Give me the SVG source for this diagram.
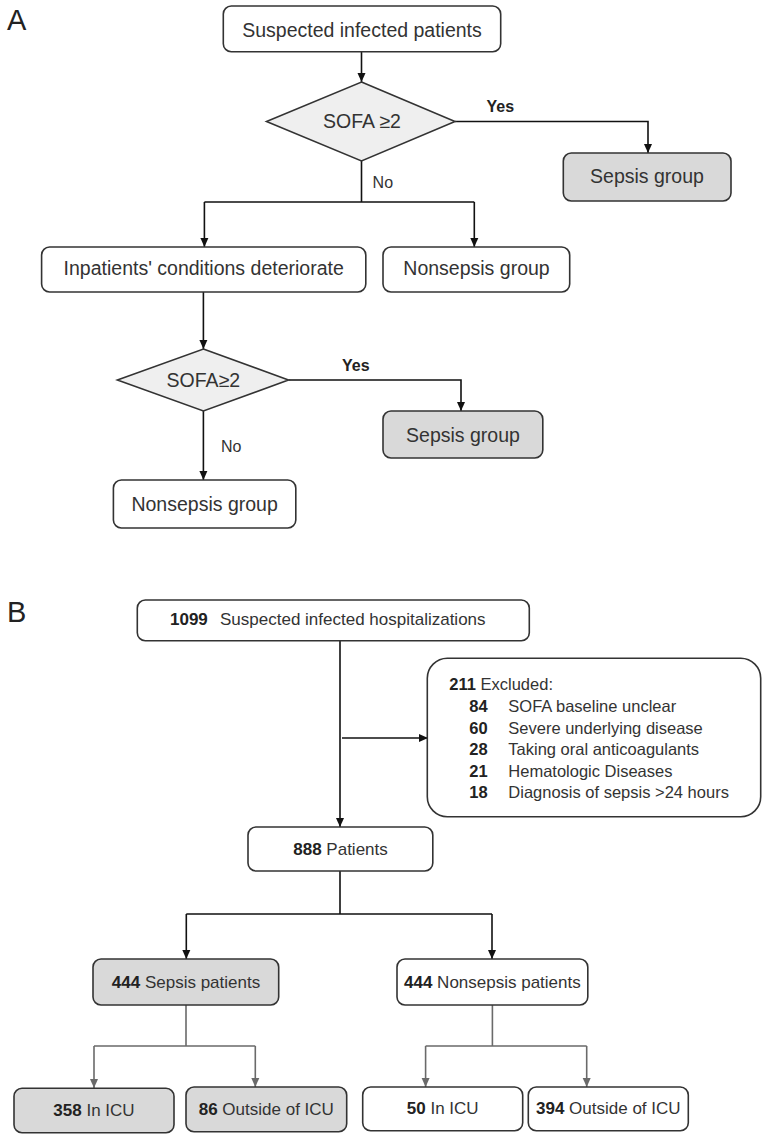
<svg xmlns="http://www.w3.org/2000/svg" width="767" height="1140" viewBox="0 0 767 1140">
<defs>
<style>
text{font-family:"Liberation Sans","Noto Sans CJK SC",sans-serif;fill:#333}
.box{fill:#fff;stroke:#333;stroke-width:1.6}
.gbox{fill:#d9d9d9;stroke:#333;stroke-width:1.6}
.dia{fill:#efefef;stroke:#333;stroke-width:1.6}
.a{font-size:19.5px}
.b{font-size:17px}
.e{font-size:16.5px}
.lbl{font-size:16px}
.bold{font-weight:bold;fill:#222}
.panel{font-size:29px;fill:#222}
.c{fill:none;stroke:#111;stroke-width:1.6}
.cg{fill:none;stroke:#6a6a6a;stroke-width:1.6}
</style>
<marker id="ar" markerUnits="userSpaceOnUse" markerWidth="10" markerHeight="10" refX="9" refY="5" orient="auto">
<path d="M0,1 L9,5 L0,9 z" fill="#111"/>
</marker>
<marker id="arg" markerUnits="userSpaceOnUse" markerWidth="10" markerHeight="10" refX="9" refY="5" orient="auto">
<path d="M0,1 L9,5 L0,9 z" fill="#6a6a6a"/>
</marker>
</defs>

<text class="panel" x="7" y="30">A</text>
<text class="panel" x="7" y="622">B</text>

<g id="connectors">
<path class="c" d="M361.5,52 V82" marker-end="url(#ar)"/>
<path class="c" d="M455,121.5 H648 V153" marker-end="url(#ar)"/>
<path class="c" d="M361.5,161 V202 M204.4,202 H474.3"/>
<path class="c" d="M204.4,202 V247" marker-end="url(#ar)"/>
<path class="c" d="M474.3,202 V247" marker-end="url(#ar)"/>
<path class="c" d="M203.4,292 V349" marker-end="url(#ar)"/>
<path class="c" d="M288.5,380 H461 V411" marker-end="url(#ar)"/>
<path class="c" d="M203.4,411 V480" marker-end="url(#ar)"/>
<path class="c" d="M340,641 V827" marker-end="url(#ar)"/>
<path class="c" d="M342,738 H428" marker-end="url(#ar)"/>
<path class="c" d="M340,871 V914 M186.3,914 H492"/>
<path class="c" d="M186.3,914 V959" marker-end="url(#ar)"/>
<path class="c" d="M492,914 V959" marker-end="url(#ar)"/>
<path class="cg" d="M186,1005 V1046 M94,1046 H255.3"/>
<path class="cg" d="M94,1046 V1088" marker-end="url(#arg)"/>
<path class="cg" d="M255.3,1046 V1087" marker-end="url(#arg)"/>
<path class="cg" d="M492.4,1005 V1046 M425.6,1046 H586.7"/>
<path class="cg" d="M425.6,1046 V1087" marker-end="url(#arg)"/>
<path class="cg" d="M586.7,1046 V1087" marker-end="url(#arg)"/>
<text class="lbl bold" x="486.5" y="112">Yes</text>
<text class="lbl" x="372.6" y="188">No</text>
<text class="lbl bold" x="342" y="371">Yes</text>
<text class="lbl" x="221" y="452">No</text>
</g>

<g id="suspected">
<rect class="box" x="223.3" y="6" width="277.4" height="45.7" rx="8"/>
<text class="a" x="362" y="36.5" text-anchor="middle">Suspected infected patients</text>
</g>
<g id="sofa1">
<polygon class="dia" points="361.5,82 455,121.5 361.5,161 266.5,121.5"/>
<text class="a" x="362" y="128" text-anchor="middle">SOFA ≥2</text>
</g>
<g id="sepsis1">
<rect class="gbox" x="563.3" y="153" width="167.7" height="48" rx="8"/>
<text class="a" x="647" y="183" text-anchor="middle">Sepsis group</text>
</g>
<g id="deteriorate">
<rect class="box" x="41.6" y="247" width="324.2" height="45" rx="8"/>
<text class="a" x="203.7" y="275" text-anchor="middle">Inpatients' conditions deteriorate</text>
</g>
<g id="nonsepsis1">
<rect class="box" x="383" y="247" width="186.7" height="45" rx="8"/>
<text class="a" x="476.5" y="275" text-anchor="middle">Nonsepsis group</text>
</g>
<g id="sofa2">
<polygon class="dia" points="203.4,349 288.5,380 203.4,411 117.4,380"/>
<text class="a" x="203.4" y="387" text-anchor="middle">SOFA≥2</text>
</g>
<g id="sepsis2">
<rect class="gbox" x="383" y="411" width="159.8" height="47" rx="8"/>
<text class="a" x="463" y="442" text-anchor="middle">Sepsis group</text>
</g>
<g id="nonsepsis2">
<rect class="box" x="113.4" y="480" width="182.4" height="48" rx="8"/>
<text class="a" x="204.6" y="511" text-anchor="middle">Nonsepsis group</text>
</g>

<g id="hospitalizations">
<rect class="box" x="137.3" y="600" width="392" height="40.7" rx="8"/>
<text class="b" x="170" y="625"><tspan class="bold">1099</tspan></text>
<text class="b" x="220" y="625">Suspected infected hospitalizations</text>
</g>
<g id="excluded">
<rect class="box" x="427.3" y="658.3" width="333.4" height="158.4" rx="20"/>
<text class="e" x="449.3" y="690"><tspan class="bold">211</tspan> Excluded:</text>
<text class="e" x="469.3" y="712"><tspan class="bold">84</tspan></text>
<text class="e" x="508.3" y="712">SOFA baseline unclear</text>
<text class="e" x="469.3" y="733.5"><tspan class="bold">60</tspan></text>
<text class="e" x="508.3" y="733.5">Severe underlying disease</text>
<text class="e" x="469.3" y="755"><tspan class="bold">28</tspan></text>
<text class="e" x="508.3" y="755">Taking oral anticoagulants</text>
<text class="e" x="469.3" y="776.5"><tspan class="bold">21</tspan></text>
<text class="e" x="508.3" y="776.5">Hematologic Diseases</text>
<text class="e" x="469.3" y="798"><tspan class="bold">18</tspan></text>
<text class="e" x="508.3" y="798">Diagnosis of sepsis &gt;24 hours</text>
</g>
<g id="patients">
<rect class="box" x="248" y="827" width="184.8" height="44" rx="8"/>
<text class="b" x="340.5" y="855" text-anchor="middle"><tspan class="bold">888</tspan> Patients</text>
</g>
<g id="sepsis-patients">
<rect class="gbox" x="93" y="959" width="185.7" height="46" rx="8"/>
<text class="b" x="186" y="988" text-anchor="middle"><tspan class="bold">444</tspan> Sepsis patients</text>
</g>
<g id="nonsepsis-patients">
<rect class="box" x="397" y="959" width="190.8" height="46" rx="8"/>
<text class="b" x="492.4" y="988" text-anchor="middle"><tspan class="bold">444</tspan> Nonsepsis patients</text>
</g>
<g id="sepsis-icu">
<rect class="gbox" x="14" y="1088.3" width="160" height="44.4" rx="8"/>
<text class="b" x="94" y="1116" text-anchor="middle"><tspan class="bold">358</tspan> In ICU</text>
</g>
<g id="sepsis-outside">
<rect class="gbox" x="186" y="1087" width="160.7" height="44.7" rx="8"/>
<text class="b" x="266.3" y="1115" text-anchor="middle"><tspan class="bold">86</tspan> Outside of ICU</text>
</g>
<g id="nonsepsis-icu">
<rect class="box" x="362.7" y="1087" width="160" height="43.7" rx="8"/>
<text class="b" x="442.7" y="1114" text-anchor="middle"><tspan class="bold">50</tspan> In ICU</text>
</g>
<g id="nonsepsis-outside">
<rect class="box" x="528.3" y="1087" width="160" height="43.7" rx="8"/>
<text class="b" x="608.3" y="1114" text-anchor="middle"><tspan class="bold">394</tspan> Outside of ICU</text>
</g>
</svg>
